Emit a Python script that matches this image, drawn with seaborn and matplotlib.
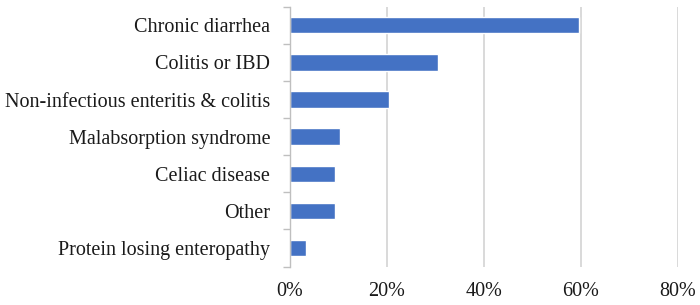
import numpy as np
import pandas as pd
import seaborn as sns
import matplotlib.pyplot as plt
from matplotlib.ticker import PercentFormatter, FixedLocator

categories = [
    "Chronic diarrhea",
    "Colitis or IBD",
    "Non-infectious enteritis & colitis",
    "Malabsorption syndrome",
    "Celiac disease",
    "Other",
    "Protein losing enteropathy",
]
shares = [59.6, 30.5, 20.5, 10.4, 9.4, 9.4, 3.4]
x_ticks = [0, 20, 40, 60, 80]

df = pd.DataFrame({"category": categories, "share": shares})

sns.set_theme(style="white")
plt.rcParams["font.family"] = ["Liberation Serif", "DejaVu Serif"]

fig, ax = plt.subplots(figsize=(7, 3.05), dpi=100)
fig.subplots_adjust(left=0.414, right=0.968, top=0.978, bottom=0.126)

sns.barplot(data=df, x="share", y="category", orient="h", color="#4472C4",
            saturation=1, width=0.44, ax=ax)

ax.set_xlim(0, 80)
ax.set_ylim(len(categories) - 0.5, -0.5)
ax.set_xticks(x_ticks)
ax.xaxis.set_major_formatter(PercentFormatter(xmax=100, decimals=0))
ax.set_xlabel("")
ax.set_ylabel("")

# vertical gridlines behind bars
ax.set_axisbelow(True)
ax.grid(axis="x", color="#d9d9d9", linewidth=1.4)
ax.grid(axis="y", visible=False)

for side in ["top", "right", "bottom"]:
    ax.spines[side].set_visible(False)
ax.spines["left"].set_color("#bfbfbf")
ax.spines["left"].set_linewidth(1.0)

# category boundary ticks, Excel style
ax.yaxis.set_minor_locator(FixedLocator(np.arange(-0.5, len(categories), 1.0)))
ax.tick_params(axis="y", which="minor", length=5, width=1.0, color="#bfbfbf", left=True)
ax.tick_params(axis="y", which="major", length=0, pad=14, labelsize=14.5, labelcolor="#1a1a1a")
ax.tick_params(axis="x", which="major", length=0, pad=11, labelsize=14.5, labelcolor="#1a1a1a")

fig.savefig("out.png", dpi=100)
